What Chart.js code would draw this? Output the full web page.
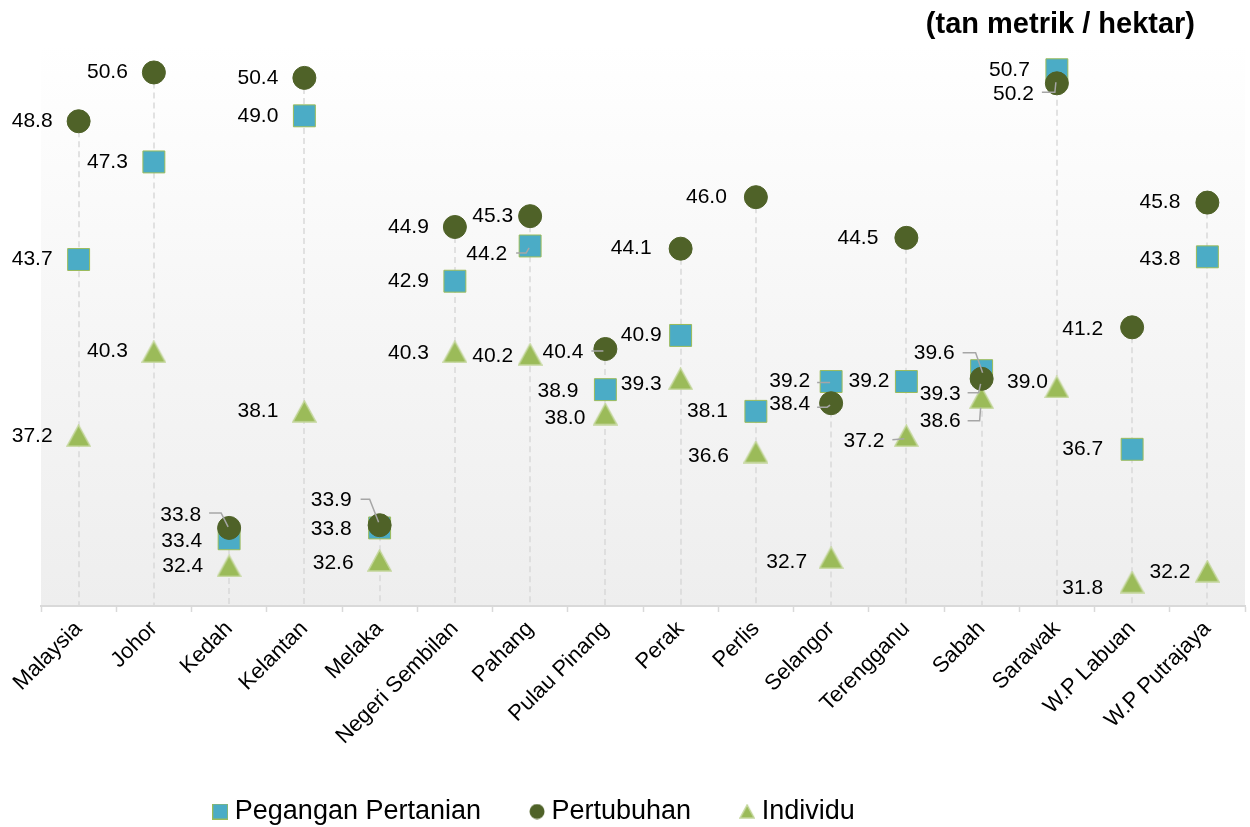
<!DOCTYPE html>
<html lang="ms">
<head>
<meta charset="utf-8">
<title>Hasil purata mengikut negeri</title>
<script src="https://cdn.jsdelivr.net/npm/chart.js"></script>
<style>
  html, body { margin: 0; padding: 0; background: #fff; }
  #wrap { width: 1250px; height: 827px; }
</style>
</head>
<body>
<div id="wrap"><canvas id="yieldChart"></canvas></div>
<script>
// categories and the three series (tan metrik / hektar)
const negeri = ['Malaysia', 'Johor', 'Kedah', 'Kelantan', 'Melaka', 'Negeri Sembilan', 'Pahang',
  'Pulau Pinang', 'Perak', 'Perlis', 'Selangor', 'Terengganu', 'Sabah', 'Sarawak', 'W.P Labuan', 'W.P Putrajaya'];
const peganganPertanian = [43.7, 47.3, 33.4, 49.0, 33.8, 42.9, 44.2, 38.9, 40.9, 38.1, 39.2, 39.2, 39.6, 50.7, 36.7, 43.8];
const pertubuhan = [48.8, 50.6, 33.8, 50.4, 33.9, 44.9, 45.3, 40.4, 44.1, 46.0, 38.4, 44.5, 39.3, 50.2, 41.2, 45.8];
const individu = [37.2, 40.3, 32.4, 38.1, 32.6, 40.3, 40.2, 38.0, 39.3, 36.6, 32.7, 37.2, 38.6, 39.0, 31.8, 32.2];
const unitLabel = '(tan metrik / hektar)';

const FONT = '"Liberation Sans", Arial, Helvetica, sans-serif';
Chart.defaults.font.family = FONT;
Chart.defaults.color = '#000';

const SQUARE_FILL = '#4bacc6', SQUARE_EDGE = '#9bbb59';
const CIRCLE_FILL = '#4f6228';
const TRI_FILL = '#9bbb59', TRI_EDGE = '#c3d69b';

// where each value label sits: dx = right edge of text from marker centre,
// dy = vertical shift, lead = leader line points relative to marker centre
// key is 'series:category'; anything missing uses the default (left of marker)
const labelPos = {
  '0:2': { dx: -27, dy: 2 },
  '1:2': { dx: -28, dy: -13, lead: [[-20, -15], [-8, -15], [-1, -1]] },
  '0:4': { dx: -28, dy: 1 },
  '1:4': { dx: -28, dy: -25, lead: [[-19, -26], [-10, -26], [-1, -3]] },
  '2:4': { dy: 3 },
  '2:5': { dy: 2 },
  '1:6': { dx: -17 },
  '0:6': { dx: -23, dy: 8, lead: [[-14, 7], [-4, 7], [-1, 2]] },
  '2:6': { dx: -17, dy: 2 },
  '1:7': { dx: -22, dy: 3, lead: [[-14, 2], [-2, 2]] },
  '0:7': { dx: -27, dy: 2 },
  '2:7': { dx: -20, dy: 4 },
  '1:8': { dx: -29 },
  '0:8': { dx: -19 },
  '2:8': { dx: -19, dy: 5 },
  '1:9': { dx: -29 },
  '0:9': { dx: -28 },
  '2:9': { dx: -27, dy: 4 },
  '0:10': { dx: -21, lead: [[-14, 1], [-1, 1]] },
  '1:10': { dx: -21, dy: 1, lead: [[-14, 4], [-4, 4], [-1, 2]] },
  '2:10': { dx: -24, dy: 4 },
  '1:11': { dx: -28 },
  '0:11': { dx: -17 },
  '2:11': { dx: -22, dy: 5, lead: [[-14, 4], [-2, 3]] },
  '0:12': { dx: -27, dy: -17, lead: [[-19, -18], [-6, -18], [1, 2]] },
  '1:12': { dx: -21, dy: 15, lead: [[-14, 14], [-3, 14], [-1, 5]] },
  '2:12': { dx: -21, dy: 23, lead: [[-14, 23], [-2, 23], [-1, 10]] },
  '0:13': { dx: -27 },
  '1:13': { dx: -23, dy: 11, lead: [[-15, 9], [-2, 9], [-1, -1]] },
  '2:13': { dx: -9, dy: -5 },
  '1:14': { dx: -29, dy: 2 },
  '0:14': { dx: -29 },
  '2:14': { dx: -29, dy: 6 },
  '1:15': { dx: -27 },
  '0:15': { dx: -27, dy: 2 },
  '2:15': { dx: -17, dy: 1 }
};

// small canvases used as marker images
function markerCanvas(w, h, paint) {
  const c = document.createElement('canvas');
  c.width = w; c.height = h;
  paint(c.getContext('2d'), w, h);
  return c;
}
// triangle centred on its box, like the spreadsheet draws it
function paintTriangle(g, w, h) {
  g.beginPath();
  g.moveTo(w / 2, 1);
  g.lineTo(w - 1, h - 1);
  g.lineTo(1, h - 1);
  g.closePath();
  g.fillStyle = TRI_FILL;
  g.fill();
  g.strokeStyle = TRI_EDGE;
  g.lineWidth = 1.5;
  g.stroke();
}
const bigTriangle = markerCanvas(25, 23, paintTriangle);
const legendMarkers = [
  markerCanvas(16, 16, (g, w, h) => {
    g.fillStyle = SQUARE_FILL; g.fillRect(0.5, 0.5, w - 1, h - 1);
    g.strokeStyle = SQUARE_EDGE; g.lineWidth = 1; g.strokeRect(0.5, 0.5, w - 1, h - 1);
  }),
  markerCanvas(16, 16, (g, w, h) => {
    g.beginPath(); g.arc(w / 2, h / 2, 7.5, 0, Math.PI * 2);
    g.fillStyle = CIRCLE_FILL; g.fill();
  }),
  markerCanvas(16, 15, paintTriangle)
];

// soft grey gradient behind the plot
const plotBackground = {
  id: 'plotBackground',
  beforeDraw(chart) {
    const { ctx, chartArea: a } = chart;
    const g = ctx.createLinearGradient(0, a.top, 0, a.bottom);
    g.addColorStop(0, '#ffffff');
    g.addColorStop(0.55, '#f5f5f5');
    g.addColorStop(1, '#eeeeee');
    ctx.save();
    ctx.fillStyle = g;
    ctx.fillRect(a.left, a.top, a.right - a.left, a.bottom - a.top);
    ctx.restore();
  }
};

// dashed line from the highest marker of each state down to the axis
const dropLines = {
  id: 'dropLines',
  beforeDatasetsDraw(chart) {
    const { ctx, chartArea: a, scales: { x, y } } = chart;
    ctx.save();
    ctx.strokeStyle = '#d9d9d9';
    ctx.lineWidth = 1.5;
    ctx.setLineDash([6, 4]);
    negeri.forEach((n, i) => {
      const top = Math.max(peganganPertanian[i], pertubuhan[i], individu[i]);
      const px = Math.round(x.getPixelForValue(i));
      ctx.beginPath();
      ctx.moveTo(px, y.getPixelForValue(top));
      ctx.lineTo(px, a.bottom);
      ctx.stroke();
    });
    ctx.restore();
  }
};

const valueLabels = {
  id: 'valueLabels',
  afterDatasetsDraw(chart) {
    const ctx = chart.ctx;
    ctx.save();
    chart.data.datasets.forEach((ds, s) => {
      chart.getDatasetMeta(s).data.forEach((pt, i) => {
        const p = labelPos[s + ':' + i] || {};
        const dx = p.dx ?? -26;
        const dy = p.dy ?? 0;
        if (p.lead) {
          ctx.strokeStyle = '#a6a6a6';
          ctx.lineWidth = 1.5;
          ctx.setLineDash([]);
          ctx.beginPath();
          p.lead.forEach(([lx, ly], k) => {
            if (k === 0) ctx.moveTo(pt.x + lx, pt.y + ly);
            else ctx.lineTo(pt.x + lx, pt.y + ly);
          });
          ctx.stroke();
        }
        ctx.font = '21px ' + FONT;
        ctx.textAlign = 'right';
        ctx.textBaseline = 'middle';
        ctx.fillStyle = '#000';
        ctx.fillText(ds.data[i].toFixed(1), pt.x + dx, pt.y + dy);
      });
    });
    ctx.restore();
  }
};

// move the title and legend to where the original report had them,
// and let the long rotated state names run past the axis box
const placeBoxes = {
  id: 'placeBoxes',
  afterLayout(chart) {
    const lg = chart.legend;
    lg.left -= 106; lg.right -= 106;
    lg.top += 8; lg.bottom += 8;
    const t = chart.titleBlock;
    t.left -= 50; t.right -= 50;
    chart.scales.x.bottom = chart.height;
  }
};

new Chart(document.getElementById('yieldChart'), {
  type: 'line',
  data: {
    labels: negeri,
    datasets: [
      {
        label: 'Pegangan Pertanian',
        data: peganganPertanian,
        order: 2,
        showLine: false,
        pointStyle: 'rect',
        pointRadius: 15.5,
        pointHoverRadius: 15.5,
        backgroundColor: SQUARE_FILL,
        borderColor: SQUARE_EDGE,
        borderWidth: 1,
        clip: false
      },
      {
        label: 'Pertubuhan',
        data: pertubuhan,
        order: 0,
        showLine: false,
        pointStyle: 'circle',
        pointRadius: 11.5,
        pointHoverRadius: 11.5,
        backgroundColor: CIRCLE_FILL,
        borderColor: CIRCLE_FILL,
        borderWidth: 1,
        clip: false
      },
      {
        label: 'Individu',
        data: individu,
        order: 1,
        showLine: false,
        pointStyle: bigTriangle,
        pointRadius: 12,
        pointHoverRadius: 12,
        backgroundColor: TRI_FILL,
        borderColor: TRI_EDGE,
        borderWidth: 1.5,
        clip: false
      }
    ]
  },
  options: {
    responsive: true,
    maintainAspectRatio: false,
    animation: false,
    layout: { autoPadding: false, padding: { left: 41, right: 5, top: 0, bottom: 0 } },
    scales: {
      x: {
        offset: true,
        grid: { offset: true, drawOnChartArea: false, color: '#d9d9d9', tickLength: 6, tickWidth: 1.5 },
        border: { display: true, color: '#d9d9d9', width: 2 },
        ticks: {
          autoSkip: false, maxRotation: 45, minRotation: 45, padding: 4,
          color: '#000', font: { size: 22 }
        },
        afterFit(scale) {
          scale.height = 129;
          scale.paddingLeft = 0;
          scale.paddingRight = 0;
        }
      },
      y: {
        display: false,
        min: 30.92,
        max: 51.62
      }
    },
    plugins: {
      title: {
        display: true,
        text: unitLabel,
        align: 'end',
        color: '#000',
        font: { size: 29, weight: 'bold' },
        padding: { top: 8, bottom: 2 }
      },
      legend: {
        position: 'bottom',
        labels: {
          usePointStyle: true,
          boxWidth: 2,
          boxHeight: 13,
          padding: 55,
          color: '#000',
          font: { size: 27 },
          generateLabels(chart) {
            const items = Chart.defaults.plugins.legend.labels.generateLabels(chart);
            items.sort((a, b) => a.datasetIndex - b.datasetIndex);
            items.forEach(it => { it.pointStyle = legendMarkers[it.datasetIndex]; });
            return items;
          }
        }
      },
      tooltip: { enabled: false }
    }
  },
  plugins: [plotBackground, dropLines, valueLabels, placeBoxes]
});
</script>
</body>
</html>
